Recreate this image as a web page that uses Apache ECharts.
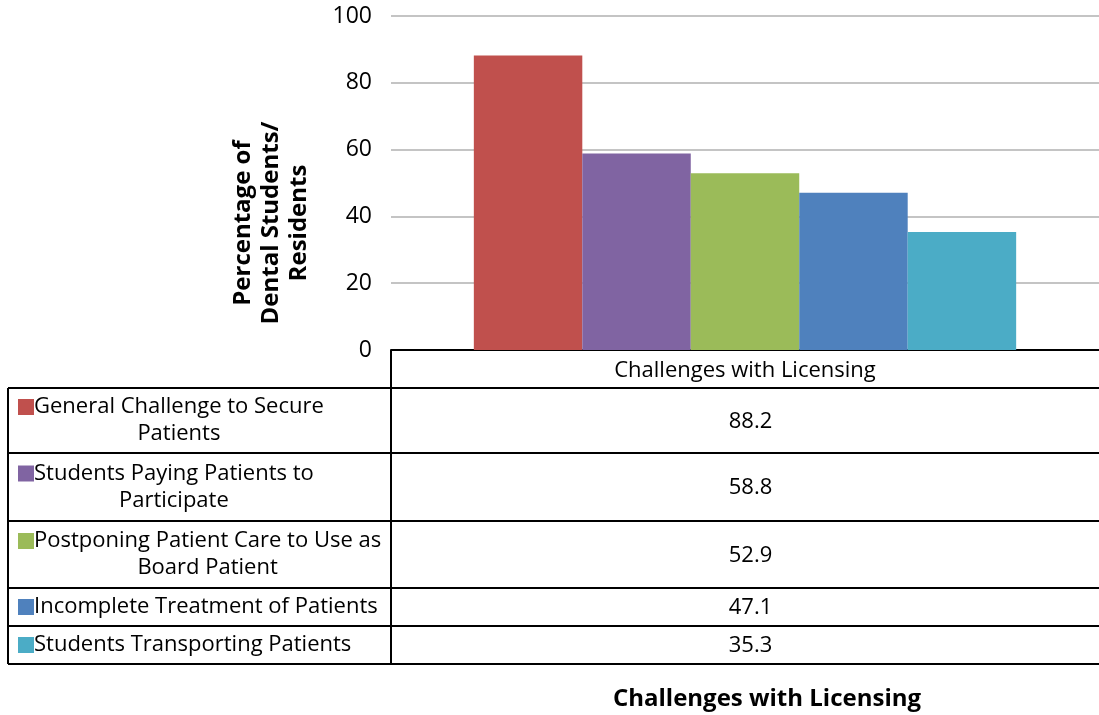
<!DOCTYPE html>
<html>
<head>
<meta charset="utf-8">
<script src="https://cdn.jsdelivr.net/npm/echarts@6/dist/echarts.min.js"></script>
<style>
  html, body { margin: 0; padding: 0; background: #fff; }
  #chart { width: 1099px; height: 715px; }
</style>
</head>
<body>
<div id="chart"></div>
<script>
// Data
const categories = ['Challenges with Licensing'];
const seriesNames = [
  'General Challenge to Secure\nPatients',
  'Students Paying Patients to\nParticipate',
  'Postponing Patient Care to Use as\nBoard Patient',
  'Incomplete Treatment of Patients',
  'Students Transporting Patients'
];
const seriesValues = [88.2, 58.8, 52.9, 47.1, 35.3];
const seriesColors = ['#C0504D', '#8064A2', '#9BBB59', '#4F81BD', '#4BACC6'];
const yMin = 0, yMax = 100, yInterval = 20;
const yTitle = 'Percentage of\nDental Students/\nResidents';
const xTitle = 'Challenges with Licensing';

// Layout
const FONT = '"Open Sans", Lato, sans-serif';
const TABLE_FS = 22, TITLE_FS = 24, TICK_FS = 23;
const gridLeft = 391, gridTop = 16, gridWidth = 719, axisY = 350;
const tableLeft = 8, tableRight = 1099;
const rowEdges = [388, 453, 521, 588, 626, 664];
const lineH = 27;

const measureCtx = document.createElement('canvas').getContext('2d');
measureCtx.font = TABLE_FS + 'px ' + FONT;

const chart = echarts.init(document.getElementById('chart'), null, { renderer: 'canvas' });

const graphics = [];
const stroke = { stroke: '#000', lineWidth: 2 };
function hLine(y, x1, x2) {
  graphics.push({ type: 'line', shape: { x1: x1, y1: y, x2: x2, y2: y }, style: stroke, z: 10 });
}
function vLine(x, y1, y2) {
  graphics.push({ type: 'line', shape: { x1: x, y1: y1, x2: x, y2: y2 }, style: stroke, z: 10 });
}

// data table grid
rowEdges.forEach(function (y) { hLine(y, tableLeft, tableRight); });
vLine(tableLeft, rowEdges[0], rowEdges[rowEdges.length - 1]);
vLine(gridLeft, axisY, rowEdges[rowEdges.length - 1]);

const valueX = gridLeft + gridWidth / 2;
seriesNames.forEach(function (name, i) {
  const top = rowEdges[i], bottom = rowEdges[i + 1];
  const mid = (top + bottom) / 2;
  const lines = name.split('\n');
  const firstY = mid - (lines.length - 1) * lineH / 2;
  const w1 = measureCtx.measureText(lines[0]).width;
  graphics.push({
    type: 'rect', shape: { x: 18, y: firstY - 8, width: 16, height: 16 },
    style: { fill: seriesColors[i] }, z: 10
  });
  graphics.push({
    type: 'text', x: 34 + w1 / 2, y: mid, z: 10,
    style: {
      text: name, fontSize: TABLE_FS, fontFamily: FONT, fill: '#000',
      align: 'center', verticalAlign: 'middle', lineHeight: lineH
    }
  });
  graphics.push({
    type: 'text', x: valueX, y: mid + 1, z: 10,
    style: {
      text: seriesValues[i].toFixed(1), fontSize: TABLE_FS, fontFamily: FONT, fill: '#000',
      align: 'center', verticalAlign: 'middle'
    }
  });
});

// axis titles
graphics.push({
  type: 'text', x: 271, y: 223, rotation: Math.PI / 2, z: 10,
  style: {
    text: yTitle, fontSize: TITLE_FS, fontWeight: 'bold', fontFamily: FONT, fill: '#000',
    align: 'center', verticalAlign: 'middle', lineHeight: 28
  }
});
graphics.push({
  type: 'text', x: 767, y: 699, z: 10,
  style: {
    text: xTitle, fontSize: TITLE_FS, fontWeight: 'bold', fontFamily: FONT, fill: '#000',
    align: 'center', verticalAlign: 'middle'
  }
});

const option = {
  animation: false,
  backgroundColor: '#fff',
  grid: { left: gridLeft, top: gridTop, width: gridWidth, height: axisY - gridTop, containLabel: false },
  xAxis: {
    type: 'category',
    data: categories,
    axisLine: { lineStyle: { color: '#000', width: 2 } },
    axisTick: { show: false },
    axisLabel: { margin: 10, fontSize: TABLE_FS, fontFamily: FONT, color: '#000' }
  },
  yAxis: {
    type: 'value',
    min: yMin, max: yMax, interval: yInterval,
    axisLine: { show: false },
    axisTick: { show: false },
    axisLabel: { margin: 19, fontSize: TICK_FS, fontFamily: FONT, color: '#000' },
    splitLine: { lineStyle: { color: '#c4c4c4', width: 2 } }
  },
  series: seriesNames.map(function (name, i) {
    return {
      type: 'bar',
      name: name,
      data: [seriesValues[i]],
      barGap: '0%',
      barCategoryGap: '23.4%',
      itemStyle: { color: seriesColors[i] }
    };
  }),
  graphic: graphics
};

chart.setOption(option);
</script>
</body>
</html>
